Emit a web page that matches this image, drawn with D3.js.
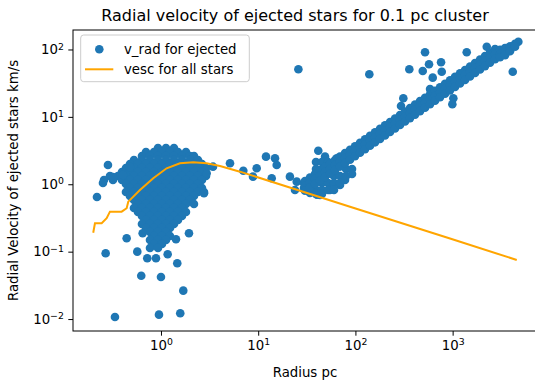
<!DOCTYPE html>
<html><head><meta charset="utf-8">
<script src="https://cdn.jsdelivr.net/npm/d3@7"></script>
<style>
body{margin:0;background:#fff}
text{font-family:"DejaVu Sans",sans-serif;fill:#000}
</style>
</head><body>
<svg id="chart" width="535" height="383"></svg>
<script>
// Radial velocity (km/s) against radius (pc) for stars ejected from a 0.1 pc cluster.

// Dense core of the cluster: each row is [v_rad, radii at that velocity]
const clusterRows = [
  [3.456, [0.9314,1.126,1.361]],
  [3.015, [0.701,0.847,1.024,1.238,1.496,1.808]],
  [2.630, [0.6376,0.7707,0.9314,1.126,1.361,1.644,1.988,2.185]],
  [2.294, [0.5275,0.6376,0.7707,0.9314,1.126,1.361,1.644,1.988,2.402]],
  [2.001, [0.4798,0.580,0.701,0.847,1.024,1.238,1.496,1.808,2.185,2.641]],
  [1.745, [0.4364,0.5275,0.6376,0.7707,0.9314,1.126,1.361,1.644,1.988,2.402,2.904]],
  [1.522, [0.397,0.4798,0.580,0.701,0.847,1.024,1.238,1.496,1.808,2.185,2.641]],
  [1.328, [0.2987,0.361,0.4364,0.5275,0.6376,0.7707,0.9314,1.126,1.361,1.644,1.988,2.402,2.904]],
  [1.158, [0.2593,0.3208,0.397,0.4798,0.580,0.701,0.847,1.024,1.238,1.496,1.808,2.185,2.641]],
  [1.010, [0.4364,0.5275,0.6376,0.7707,0.9314,1.126,1.361,1.644,1.988,2.402]],
  [0.8813,[0.4798,0.580,0.701,0.847,1.024,1.238,1.496,1.808,2.185,2.641]],
  [0.7687,[0.4364,0.5275,0.6376,0.7707,0.9314,1.126,1.361,1.644,1.988,2.402,2.770]],
  [0.6706,[0.4798,0.580,0.701,0.847,1.024,1.238,1.496,1.808,2.185]],
  [0.5849,[0.5275,0.6376,0.7707,0.9314,1.126,1.361,1.644,1.988]],
  [0.5102,[0.580,0.701,0.847,1.024,1.238,1.496,1.808,2.185]],
  [0.4451,[0.5275,0.6376,0.7707,0.9314,1.126,1.361,1.644]],
  [0.3882,[0.580,0.701,0.847,1.024,1.238,1.496,1.808]],
  [0.3386,[0.6376,0.7707,0.9314,1.126,1.361,1.644]],
  [0.2954,[0.701,0.847,1.024,1.238,1.496]],
  [0.2576,[0.6376,0.7707,0.9314,1.126,1.361]],
  [0.2247,[0.701,0.847,1.024,1.238]],
  [0.1960,[0.7707,0.9314,1.126]],
  [0.1710,[0.847,1.024,1.238]],
  [0.1491,[0.7707,0.9314,1.126]],
  [0.1301,[0.847,1.024]],
  [0.1135,[0.7707,0.9314]]
];

// Scattered ejected stars outside the core and the main stream: [radius, v_rad]
const scatteredStars = [
  [0.2849,1.934],[0.4798,1.806],[0.2196,0.648],[0.2531,1.045],[0.3208,1.283],[0.4064,1.374],
  [0.4437,0.158],[0.2698,0.0947],[0.648,0.1875],[0.5707,0.1],[0.7228,0.0798],[0.8883,0.0798],
  [1.172,0.0915],[1.471,0.0673],[1.427,0.1528],[1.941,0.1875],[0.627,0.044],[1.0,0.0421],
  [1.696,0.0264],[0.3363,0.01074],[0.9537,0.01162],[1.579,0.0122],[2.77,0.7355],
  [3.43,1.824],[5.13,2.05],[2.95,1.456],[2.52,2.05],
  [7.03,1.59],[9.65,1.727],[12.03,2.568],[14.89,2.431],[15.5,1.934],[8.84,1.297],
  [13.77,1.228],[21.2,1.297],[24.9,1.093],[23.9,0.823],
  [25.9,50.8],[41.5,3.15],[48.7,2.568],[64.2,2.431],
  [40.3,0.70],[34.1,0.743],[43.2,0.694],[54.8,0.823],[69.4,0.976],[78.2,1.158],
  [139,42.9],[358.4,50.8],[294.5,14.5],[311,18.9],[520,90.9],[492.6,48.0],[571.6,60.3],
  [624,38.2],[585.5,25.9],[760,64.6],[772.6,46.8],[1017,18.9],[993,15.38],[1396,90.9],
  [2243,110],[4742,130.5],[4153,46.8]
];

// Wide foot of the outflow stream where it leaves the cluster: [radius, v_rad]
const streamFoot = [
  [29.6,1.045],[29.6,0.881],
  [34.1,1.045],[34.1,0.823],
  [39.3,2.142],[39.3,1.687],[39.3,0.823],[39.3,0.718],
  [45.3,2.142],[45.3,1.687],[45.3,1.045],[45.3,0.823],[45.3,0.718],
  [52.3,2.142],[52.3,1.687],[52.3,1.045],[52.3,0.823],
  [60.2,2.142],[60.2,1.328],[60.2,1.045],[60.2,0.823],
  [69.4,1.328],[69.4,1.045],
  [80.1,1.687],[80.1,1.328],
  [92.3,1.687],[92.3,1.42]
];

// Main outflow stream: radius with upper, middle and lower edge velocities
const streamR = [30.3,34.1,38.4,43.2,48.7,54.8,61.7,69.4,78.2,88.0,99.1,111.5,125.6,141.3,159.1,
  179.1,201.6,227.0,255.5,287.6,323.8,364.5,410.4,461.9,520.0,585.5,659.0,742.0,835.3,940.4,
  1058.5,1191.7,1341.7,1510.3,1700.4,1914.1,2154.4,2425.6,2730.4,3073.9,3459.9,3895.2,4385.5];
const streamVHigh = [1.12,1.26,1.42,1.60,1.80,2.03,2.29,2.57,2.90,3.26,3.67,4.13,4.65,5.23,5.89,
  6.63,7.47,8.41,9.46,10.65,11.99,13.50,15.20,17.11,19.26,21.69,24.41,27.48,30.94,34.83,
  39.20,44.14,49.69,55.94,62.98,70.89,79.79,89.84,101.1,99.2,104.8,111.3,121.8];
const streamVMid = [0.95,1.07,1.20,1.35,1.52,1.71,1.93,2.17,2.44,2.75,3.10,3.48,3.93,4.42,4.97,
  5.60,6.30,7.09,7.98,8.99,10.12,11.39,12.83,14.43,16.25,18.30,20.59,23.19,26.10,29.39,
  33.08,37.24,41.93,47.20,53.14,59.82,67.33,75.80,85.3,85.4,91.1,102.5,115.4];
const streamVLow = [0.80,0.90,1.01,1.14,1.28,1.44,1.62,1.83,2.06,2.32,2.61,2.93,3.31,3.72,4.19,
  4.71,5.31,5.97,6.72,7.57,8.52,9.59,10.80,12.16,13.68,15.41,17.34,19.53,21.98,24.75,
  27.86,31.36,35.31,39.74,44.75,50.37,56.69,63.83,71.9,76.8,82.4,94.2,109.6];

// Escape velocity profile of the whole cluster
const vescR = [0.201,0.2094,0.2454,0.2763,0.2987,0.394,0.4437,0.4609,0.608,0.833,1.144,1.568,
  2.149,2.952,4.045,6.50,26.9,88,940,4565];
const vescV = [0.191,0.2638,0.264,0.313,0.392,0.392,0.4405,0.552,0.823,1.228,1.727,2.049,
  2.12,2.049,1.868,1.538,0.801,0.465,0.1565,0.0753];

const xMajor = [1, 10, 100, 1000];
const yMajor = [0.01, 0.1, 1, 10, 100];
const titleText = "Radial velocity of ejected stars for 0.1 pc cluster";
const xLabel = "Radius pc";
const yLabel = "Radial Velocity of ejected stars km/s";
const legendLabels = ["v_rad for ejected", "vesc for all stars"];

const blue = "#1f77b4", orange = "#ffa500";
const plot = {left: 73, right: 538, top: 30, bottom: 331};

const x = d3.scaleLog().domain([0.1245, 7551]).range([plot.left, plot.right]);
const y = d3.scaleLog().domain([0.00665, 194.5]).range([plot.bottom, plot.top]);

const svg = d3.select("#chart");

// Collect all scatter points
const points = [];
clusterRows.forEach(([v, rs]) => rs.forEach(r => points.push([r, v])));
scatteredStars.forEach(p => points.push(p));
streamFoot.forEach(p => points.push(p));
streamR.forEach((r, i) => {
  points.push([r, streamVHigh[i]]);
  points.push([r, streamVMid[i]]);
  points.push([r, streamVLow[i]]);
});

svg.append("defs").append("clipPath").attr("id", "plotclip")
  .append("rect").attr("x", plot.left).attr("y", plot.top)
  .attr("width", plot.right - plot.left).attr("height", plot.bottom - plot.top);

const body = svg.append("g").attr("clip-path", "url(#plotclip)");

body.append("g").selectAll("circle").data(points).join("circle")
  .attr("cx", d => x(d[0])).attr("cy", d => y(d[1])).attr("r", 4.3)
  .attr("fill", blue);

body.append("path")
  .datum(vescR.map((r, i) => [r, vescV[i]]))
  .attr("d", d3.line().x(d => x(d[0])).y(d => y(d[1])))
  .attr("fill", "none").attr("stroke", orange).attr("stroke-width", 2);

// Minor tick values on the log axes
function minors(scale) {
  const [a, b] = scale.domain();
  const out = [];
  for (let e = Math.floor(Math.log10(a)); e <= Math.ceil(Math.log10(b)); e++) {
    for (let m = 2; m <= 9; m++) {
      const t = m * Math.pow(10, e);
      if (t >= a && t <= b) out.push(t);
    }
  }
  return out;
}

function superscriptLabels(sel) {
  sel.selectAll(".tick text").each(function(d) {
    const t = d3.select(this);
    const e = Math.round(Math.log10(d));
    t.text(null);
    t.append("tspan").text("10");
    t.append("tspan").attr("dy", "-0.5em").attr("font-size", "0.7em")
      .text(e < 0 ? "\u2212" + (-e) : String(e));
  });
}

const gx = svg.append("g").attr("transform", `translate(0,${plot.bottom})`);
gx.call(d3.axisBottom(x).tickValues(minors(x)).tickSize(2.7).tickFormat(""));
gx.call(d3.axisBottom(x).tickValues(xMajor).tickSize(4.7).tickPadding(4.5)
  .tickFormat(d => d));
gx.selectAll(".domain").remove();
gx.selectAll("text").attr("font-size", 13.3).attr("dy", "0.71em");
superscriptLabels(gx);

const gy = svg.append("g").attr("transform", `translate(${plot.left},0)`);
gy.call(d3.axisLeft(y).tickValues(minors(y)).tickSize(2.7).tickFormat(""));
gy.call(d3.axisLeft(y).tickValues(yMajor).tickSize(4.7).tickPadding(4.5)
  .tickFormat(d => d));
gy.selectAll(".domain").remove();
gy.selectAll("text").attr("font-size", 13.3);
superscriptLabels(gy);
svg.selectAll(".tick line").attr("stroke", "#000").attr("stroke-width", 1);

// Axes frame
svg.append("rect").attr("x", plot.left).attr("y", plot.top)
  .attr("width", plot.right - plot.left).attr("height", plot.bottom - plot.top)
  .attr("fill", "none").attr("stroke", "#000").attr("stroke-width", 1);

svg.append("text").attr("x", 295).attr("y", 20.5).attr("text-anchor", "middle")
  .attr("font-size", 16).text(titleText);
svg.append("text").attr("x", 305).attr("y", 376.5).attr("text-anchor", "middle")
  .attr("font-size", 13.3).text(xLabel);
svg.append("text").attr("transform", "translate(18,180.5) rotate(-90)")
  .attr("text-anchor", "middle").attr("font-size", 13.3).text(yLabel);

// Legend
const lg = svg.append("g");
lg.append("rect").attr("x", 80.7).attr("y", 35).attr("width", 168.6).attr("height", 46.7)
  .attr("rx", 3).attr("fill", "#fff").attr("fill-opacity", 0.8)
  .attr("stroke", "#ccc").attr("stroke-width", 1);
lg.append("circle").attr("cx", 99.3).attr("cy", 49.3).attr("r", 4.3).attr("fill", blue);
lg.append("line").attr("x1", 85).attr("x2", 113.3).attr("y1", 69.3).attr("y2", 69.3)
  .attr("stroke", orange).attr("stroke-width", 2);
lg.append("text").attr("x", 124).attr("y", 53.5).attr("font-size", 13.3).text(legendLabels[0]);
lg.append("text").attr("x", 124).attr("y", 73.5).attr("font-size", 13.3).text(legendLabels[1]);
</script>
</body></html>
